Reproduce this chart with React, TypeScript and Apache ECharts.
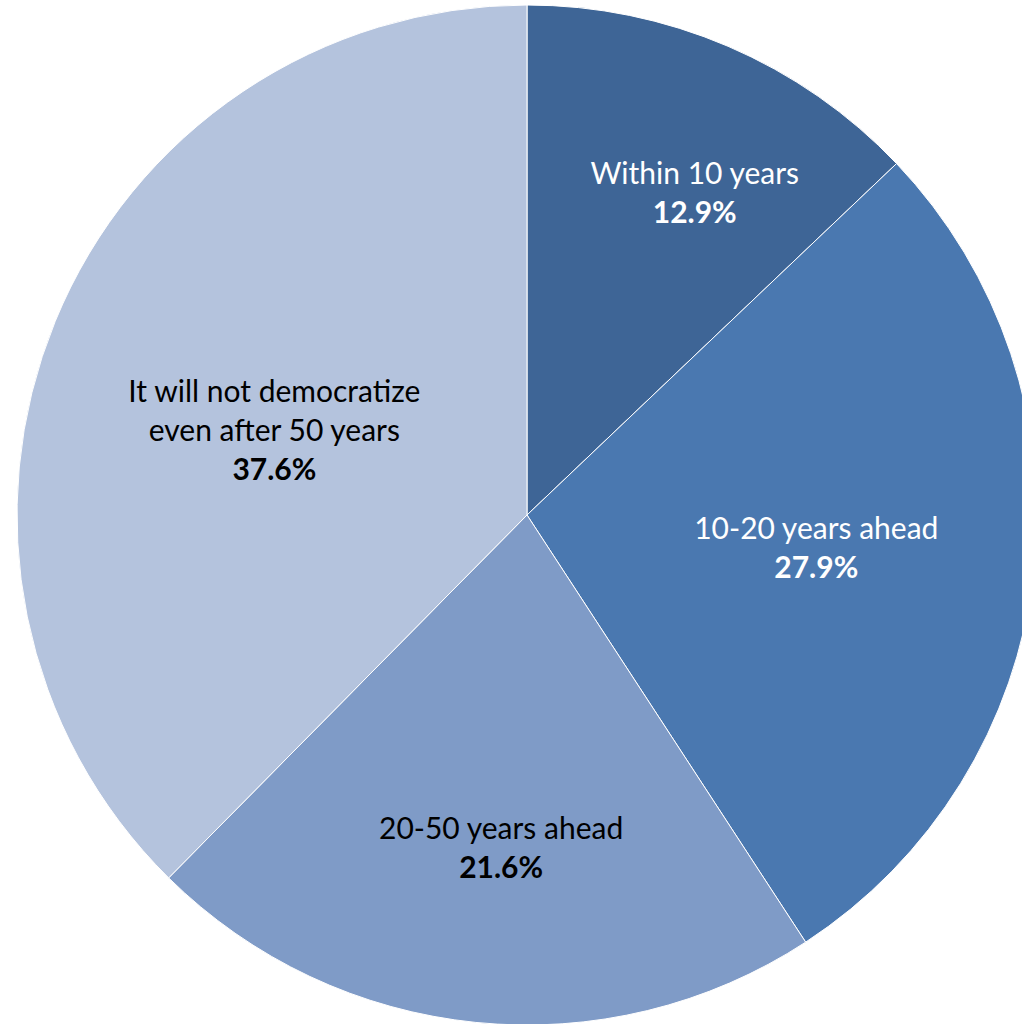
import React, { useEffect, useRef } from "react";
import * as echarts from "echarts";

const categories = [
  "Within 10 years",
  "10-20 years ahead",
  "20-50 years ahead",
  "It will not democratize\neven after 50 years",
];
const values = [12.9, 27.9, 21.6, 37.6];
const colors = ["#3E6596", "#4A78B0", "#7F9BC7", "#B4C3DD"];
const textColors = ["#FFFFFF", "#FFFFFF", "#000000", "#000000"];
const labelOffsets: [number, number][] = [
  [66, -86],
  [33, 2],
  [0, 75],
  [-14, 12],
];

export default function App() {
  const ref = useRef<HTMLDivElement>(null);
  useEffect(() => {
    if (!ref.current) return;
    const chart = echarts.init(ref.current, undefined, { renderer: "svg" });
    chart.setOption({
      animation: false,
      backgroundColor: "#FFFFFF",
      series: [
        {
          type: "pie",
          center: [527, 515],
          radius: [0, 510],
          startAngle: 90,
          clockwise: true,
          avoidLabelOverlap: false,
          itemStyle: { borderColor: "#FFFFFF", borderWidth: 1 },
          label: {
            show: true,
            position: "inside",
            fontFamily: "Lato",
            fontSize: 30,
            lineHeight: 39,
            align: "center",
          },
          labelLine: { show: false },
          data: categories.map((name, i) => ({
            name,
            value: values[i],
            itemStyle: { color: colors[i] },
            label: {
              offset: labelOffsets[i],
              formatter: (p: any) => `{n|${p.name}}\n{v|${p.value.toFixed(1)}%}`,
              rich: {
                n: { color: textColors[i], fontFamily: "Lato", fontSize: 30, lineHeight: 39 },
                v: { color: textColors[i], fontFamily: "Lato", fontSize: 30, fontWeight: "bold", lineHeight: 39 },
              },
            },
          })),
        },
      ],
    });
    return () => chart.dispose();
  }, []);
  return (
    <div
      ref={ref}
      style={{ position: "fixed", left: 0, top: 0, width: 1022, height: 1024 }}
    />
  );
}
